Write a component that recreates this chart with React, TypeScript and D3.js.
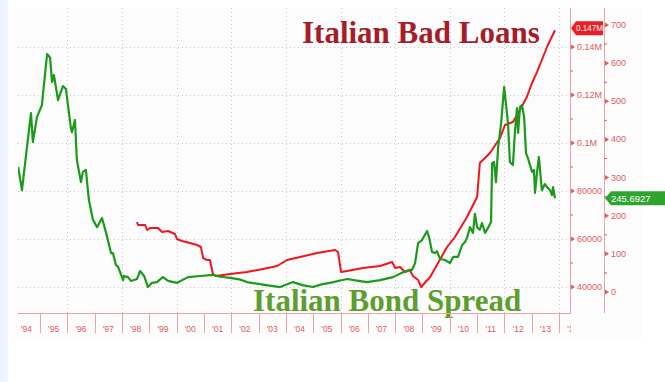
import React from "react";
import * as d3 from "d3";

// Italian Bond Spread (bp), [decimal year, value]
const spreadData: [number, number][] = [
  [1994.2, 328], [1994.34, 267], [1994.67, 469], [1994.74, 393], [1994.89, 459], [1995.07, 490],
  [1995.26, 624], [1995.37, 614], [1995.44, 551], [1995.51, 569], [1995.66, 503], [1995.84, 540],
  [1995.95, 532], [1996.13, 430], [1996.17, 419], [1996.28, 451], [1996.35, 346], [1996.5, 288],
  [1996.57, 315], [1996.68, 320], [1996.79, 241], [1996.94, 189], [1997.09, 170], [1997.27, 194],
  [1997.42, 155], [1997.6, 102], [1997.67, 102], [1997.78, 71], [1997.86, 66], [1998.04, 31],
  [1998.07, 42], [1998.22, 39], [1998.33, 29], [1998.55, 34], [1998.66, 55], [1998.81, 42],
  [1998.95, 13], [1999.1, 24], [1999.28, 26], [1999.5, 39], [1999.69, 29], [2000.02, 24],
  [2000.42, 39], [2000.86, 42], [2001.34, 45], [2001.6, 40], [2001.96, 37], [2002.3, 33], [2002.58, 26],
  [2003.1, 20], [2003.79, 13], [2004.26, 26], [2004.6, 18], [2004.99, 13], [2005.3, 20], [2005.61, 24],
  [2006.24, 34], [2006.6, 30], [2006.97, 26], [2007.45, 31], [2007.92, 39], [2008.29, 52],
  [2008.54, 58], [2008.62, 58], [2008.73, 76], [2008.84, 128], [2008.98, 136], [2009.17, 160],
  [2009.24, 144], [2009.35, 105], [2009.46, 102], [2009.53, 107], [2009.64, 87], [2009.82, 84],
  [2010.01, 76], [2010.12, 92], [2010.3, 92], [2010.45, 123], [2010.56, 131], [2010.63, 142],
  [2010.74, 170], [2010.85, 155], [2010.92, 205], [2011.0, 170], [2011.1, 163], [2011.18, 181],
  [2011.29, 155], [2011.4, 168], [2011.51, 184], [2011.55, 338], [2011.62, 341], [2011.69, 288],
  [2011.77, 380], [2011.88, 443], [2011.99, 538], [2012.13, 443], [2012.2, 341], [2012.31, 333],
  [2012.39, 425], [2012.46, 482], [2012.5, 417], [2012.57, 485], [2012.64, 490], [2012.72, 459],
  [2012.79, 364], [2012.86, 351], [2013.01, 315], [2013.08, 320], [2013.12, 260], [2013.19, 312],
  [2013.26, 354], [2013.37, 267], [2013.48, 283], [2013.56, 275], [2013.67, 267], [2013.74, 254],
  [2013.78, 275], [2013.85, 245.69],
];

// Italian Bad Loans (EUR m), [decimal year, value]
const badLoansData: [number, number][] = [
  [1998.55, 67083], [1998.59, 65833], [1998.85, 65833], [1998.92, 63750], [1999.03, 64583],
  [1999.32, 64583], [1999.47, 62917], [1999.69, 63333], [1999.94, 62083], [2000.01, 60000],
  [2000.2, 59167], [2000.34, 58750], [2000.49, 58333], [2000.75, 57500], [2000.89, 56667],
  [2000.97, 52083], [2001.11, 51250], [2001.22, 51250], [2001.33, 45417], [2001.44, 44583],
  [2001.96, 45417], [2002.58, 46250], [2003.16, 47500], [2003.68, 48750], [2004.04, 51250],
  [2004.52, 52500], [2005.14, 54167], [2005.8, 55417], [2005.91, 54583], [2006.02, 46250],
  [2006.24, 46667], [2006.82, 47917], [2007.45, 48750], [2007.89, 50417], [2008.0, 47917],
  [2008.18, 48333], [2008.36, 46250], [2008.54, 47083], [2008.65, 44583], [2008.84, 42917],
  [2008.95, 40000], [2009.28, 44167], [2009.57, 50000], [2009.9, 56667], [2010.19, 60833],
  [2010.63, 69167], [2011.0, 77500], [2011.1, 91667], [2011.47, 95833], [2011.84, 102083],
  [2012.02, 107500], [2012.31, 108750], [2012.57, 113750], [2012.82, 119167], [2013.01, 125000],
  [2013.19, 129500], [2013.37, 134583], [2013.59, 140833], [2013.85, 147000],
];

const years = d3.range(1994, 2015);
const loanTicks = [40000, 60000, 80000, 100000, 120000, 140000];
const loanMinor = [50000, 70000, 90000, 110000, 130000];
const spreadTicks = [0, 100, 200, 300, 400, 500, 600, 700];
const spreadMinor = [50, 150, 250, 350, 450, 550, 650];
const lastLoanLabel = "0.147M";
const lastSpreadLabel = "245.6927";

const W = 665, H = 382;
const PL = 18, PR = 570, PT = 8, PB = 313;
const AX2 = 604;

export default function App() {
  const x = d3.scaleLinear().domain([1994.195, 2014.4]).range([PL, PR]);
  const yLoan = d3.scaleLinear().domain([40000, 140000]).range([287, 47]);
  const ySpread = d3.scaleLinear().domain([0, 700]).range([292, 25]);

  const greenLine = d3.line<[number, number]>().x(d => x(d[0])).y(d => ySpread(d[1]));
  const redLine = d3.line<[number, number]>().x(d => x(d[0])).y(d => yLoan(d[1]));

  const fmtLoan = (v: number) => (v >= 100000 ? `${+(v / 1e6).toFixed(2)}M` : `${v}`);
  const axisCol = "#eaa3a6";
  const labCol = "#df5a60";

  const lastLoan = badLoansData[badLoansData.length - 1];
  const lastSpread = spreadData[spreadData.length - 1];
  const yl = yLoan(lastLoan[1]) - 2;
  const ys = ySpread(lastSpread[1]);

  return (
    <svg width={W} height={H} style={{ position: "absolute", left: 0, top: 0, background: "#fff" }}>
      <defs>
        <clipPath id="plot"><rect x={PL} y={PT} width={PR - PL} height={PB - PT} /></clipPath>
        <clipPath id="xlab"><rect x={PL} y={PB} width={PR - PL + 1} height={40} /></clipPath>
      </defs>
      <rect x={0} y={0} width={8} height={H} fill="#eef3fd" />
      <rect x={15} y={PT} width={627} height={PB - PT + 27} fill="#fcfcfc" />
      {/* grid */}
      <g stroke="#c8c8c8" strokeWidth={1} strokeDasharray="1,3">
        {loanTicks.map(t => (
          <line key={"h" + t} x1={PL} x2={PR} y1={Math.round(yLoan(t)) + 0.5} y2={Math.round(yLoan(t)) + 0.5} />
        ))}
        {years.filter(yv => yv % 2 === 0 && x(yv) > PL).map(yv => (
          <line key={"v" + yv} x1={Math.round(x(yv)) + 0.5} x2={Math.round(x(yv)) + 0.5} y1={PT} y2={PB} />
        ))}
      </g>
      {/* series */}
      <g clipPath="url(#plot)" fill="none" strokeLinejoin="round">
        <path d={redLine(badLoansData) || ""} stroke="#f0161c" strokeWidth={2} />
        <path d={greenLine(spreadData) || ""} stroke="#1c9a1c" strokeWidth={2.2} />
      </g>
      {/* titles */}
      <text x={302} y={43} fontFamily="'Liberation Serif', serif" fontWeight="bold" fontSize={31} fill="#a61c28">Italian Bad Loans</text>
      <text x={253} y={311} fontFamily="'Liberation Serif', serif" fontWeight="bold" fontSize={31} fill="#5c9f30">Italian Bond Spread</text>
      {/* bottom axis */}
      <line x1={PL} x2={PR + 1} y1={PB + 0.5} y2={PB + 0.5} stroke={axisCol} />
      <g stroke={axisCol}>
        {years.filter(yv => x(yv) > PL && x(yv) < PR).map(yv => (
          <line key={"t" + yv} x1={Math.round(x(yv)) + 0.5} x2={Math.round(x(yv)) + 0.5} y1={PB} y2={PB + 20} />
        ))}
      </g>
      <g clipPath="url(#xlab)" fontFamily="'Liberation Sans', Arial, sans-serif" fontSize={8.5} fill={labCol} textAnchor="middle">
        {years.map(yv => (
          <text key={"l" + yv} x={x(yv + 0.5)} y={332}>{"'" + String(yv).slice(2)}</text>
        ))}
      </g>
      {/* loan axis */}
      <line x1={PR + 0.5} x2={PR + 0.5} y1={PT} y2={PB} stroke={axisCol} />
      <g fill={labCol}>
        {loanTicks.map(t => (
          <g key={"lt" + t}>
            <path d={`M${PR + 1},${yLoan(t) - 2.5}L${PR + 5},${yLoan(t)}L${PR + 1},${yLoan(t) + 2.5}Z`} />
            <text x={PR + 7} y={yLoan(t) + 3} fontFamily="'Liberation Sans', Arial, sans-serif" fontSize={9}>{fmtLoan(t)}</text>
          </g>
        ))}
      </g>
      <g stroke={labCol}>
        {loanMinor.map(t => (
          <line key={"lm" + t} x1={PR} x2={PR + 3} y1={yLoan(t)} y2={yLoan(t)} />
        ))}
      </g>
      {/* spread axis */}
      <line x1={AX2 + 0.5} x2={AX2 + 0.5} y1={PT} y2={PB} stroke={axisCol} />
      <g fill={labCol}>
        {spreadTicks.map(t => (
          <g key={"st" + t}>
            <path d={`M${AX2 + 1},${ySpread(t) - 2.5}L${AX2 + 5},${ySpread(t)}L${AX2 + 1},${ySpread(t) + 2.5}Z`} />
            <text x={AX2 + 7} y={ySpread(t) + 3} fontFamily="'Liberation Sans', Arial, sans-serif" fontSize={9}>{t}</text>
          </g>
        ))}
      </g>
      <g stroke={labCol}>
        {spreadMinor.map(t => (
          <line key={"sm" + t} x1={AX2} x2={AX2 + 3} y1={ySpread(t)} y2={ySpread(t)} />
        ))}
      </g>
      {/* last value flags */}
      <path d={`M${PR + 1},${yl}L${PR + 6},${yl - 7}L${AX2 - 1},${yl - 7}L${AX2 - 1},${yl + 7}L${PR + 6},${yl + 7}Z`} fill="#ee1c24" />
      <text x={PR + 6} y={yl + 3} fontFamily="'Liberation Sans', Arial, sans-serif" fontSize={8.5} textLength={27} lengthAdjust="spacingAndGlyphs" fill="#fff">{lastLoanLabel}</text>
      <path d={`M${AX2 + 1},${ys}L${AX2 + 7},${ys - 7}L${W},${ys - 7}L${W},${ys + 7}L${AX2 + 7},${ys + 7}Z`} fill="#2ea32e" />
      <text x={AX2 + 7} y={ys + 3.5} fontFamily="'Liberation Sans', Arial, sans-serif" fontSize={9.5} fill="#fff">{lastSpreadLabel}</text>
    </svg>
  );
}
